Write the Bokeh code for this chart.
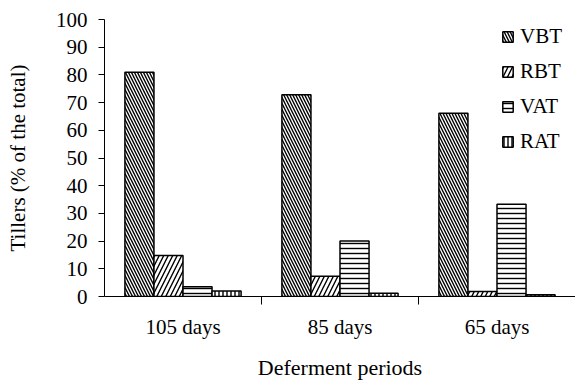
from bokeh.plotting import figure
from bokeh.models import (FactorRange, Range1d, LinearAxis, CategoricalAxis,
                          FixedTicker, ColumnDataSource, Legend, LegendItem)
from bokeh.transform import dodge
from bokeh.embed import file_html
from bokeh.resources import INLINE

periods = ["105 days", "85 days", "65 days"]
series = ["VBT", "RBT", "VAT", "RAT"]
VBT = [81, 72.8, 66.2]
RBT = [14.8, 7.3, 1.8]
VAT = [3.5, 20.0, 33.3]
RAT = [2.0, 1.2, 0.6]
y_ticks = [0, 10, 20, 30, 40, 50, 60, 70, 80, 90, 100]

values = {"VBT": VBT, "RBT": RBT, "VAT": VAT, "RAT": RAT}
hatches = {"VBT": ("left_diagonal_line", 6), "RBT": ("right_diagonal_line", 9),
           "VAT": ("horizontal_line", 5), "RAT": ("vertical_line", 4)}

FONT = "Liberation Serif"

p = figure(x_range=FactorRange(*periods), y_range=Range1d(0, 100),
           width=575, height=382, output_backend="svg", toolbar_location=None,
           x_axis_location=None, y_axis_location=None,
           min_border_left=104, min_border_right=0, min_border_top=19, min_border_bottom=80)
p.outline_line_color = None
p.xgrid.visible = False
p.ygrid.visible = False
p.background_fill_color = None

src = ColumnDataSource(dict(period=periods, **values))
bw = 0.185
items = []
for i, s in enumerate(series):
    off = (i - 1.5) * bw
    pat, sc = hatches[s]
    r = p.vbar(x=dodge("period", off, range=p.x_range), top=s, width=bw, source=src,
               fill_color="white", line_color="black", line_width=1.5,
               hatch_pattern=pat, hatch_scale=sc, hatch_weight=1.4, hatch_color="black")
    items.append(LegendItem(label=s, renderers=[r]))

# y axis
yax = LinearAxis(ticker=FixedTicker(ticks=y_ticks))
yax.major_tick_out = 6
yax.major_tick_in = 0
yax.minor_tick_line_color = None
yax.axis_line_color = "black"
yax.major_label_text_font = FONT
yax.major_label_text_font_size = "21px"
yax.major_label_text_color = "black"
yax.major_label_standoff = 11
yax.axis_label = "Tillers (% of the total)"
yax.axis_label_text_font = FONT
yax.axis_label_text_font_size = "21px"
yax.axis_label_text_font_style = "normal"
yax.axis_label_text_color = "black"
yax.axis_label_standoff = 23
p.add_layout(yax, "left")

# x axis line with separator ticks between the groups
sep = LinearAxis(ticker=FixedTicker(ticks=[1, 2]))
sep.major_tick_out = 8
sep.major_tick_in = 0
sep.minor_tick_line_color = None
sep.major_label_text_font_size = "0px"
sep.major_label_text_color = None
sep.major_label_standoff = 0
sep.axis_line_color = "black"
p.add_layout(sep, "below")

# category labels
cax = CategoricalAxis()
cax.axis_line_color = None
cax.major_tick_line_color = None
cax.major_tick_out = 0
cax.major_label_text_font = FONT
cax.major_label_text_font_size = "21px"
cax.major_label_text_color = "black"
cax.major_label_standoff = 10
cax.axis_label = "Deferment periods"
cax.axis_label_text_font = FONT
cax.axis_label_text_font_size = "22px"
cax.axis_label_text_font_style = "normal"
cax.axis_label_text_color = "black"
cax.axis_label_standoff = 13
p.add_layout(cax, "below")

legend = Legend(items=items, location="top_right")
legend.border_line_color = None
legend.background_fill_alpha = 0
legend.label_text_font = FONT
legend.label_text_font_size = "21px"
legend.label_text_color = "black"
legend.glyph_width = 13
legend.glyph_height = 13
legend.spacing = 10
legend.label_standoff = 6
legend.label_width = 50
legend.margin = 5
legend.padding = 4
p.add_layout(legend)

open("out.html", "w").write(file_html(p, INLINE))
